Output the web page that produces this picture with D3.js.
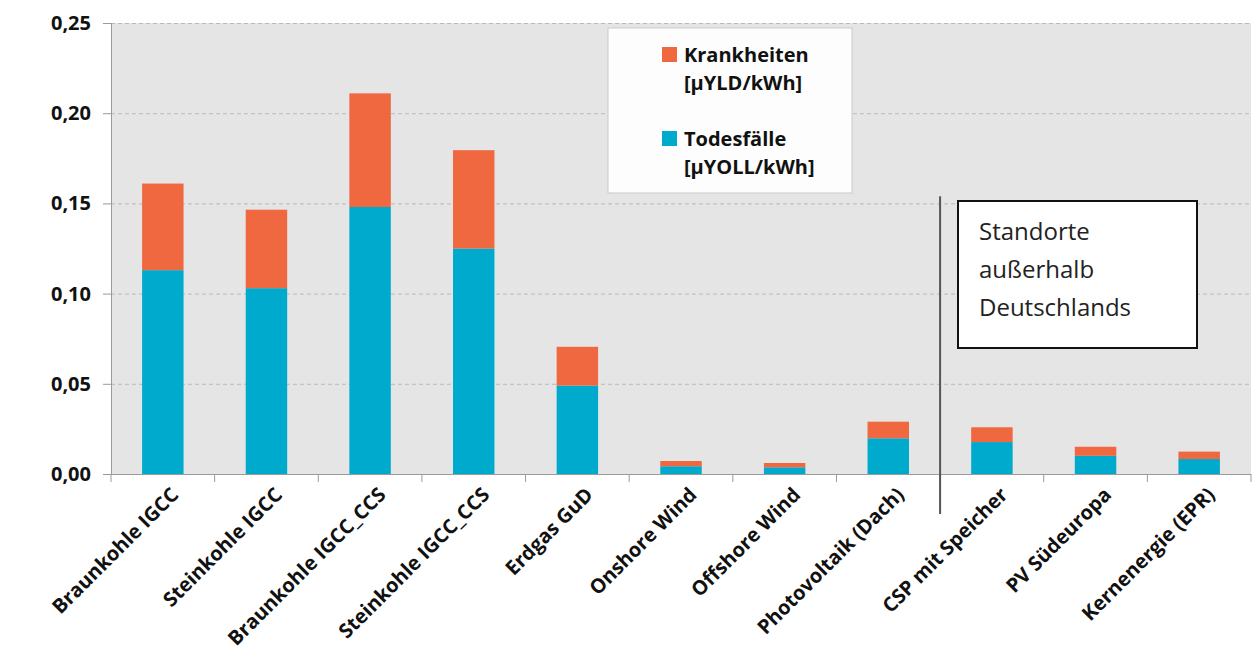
<!DOCTYPE html>
<html>
<head>
<meta charset="utf-8">
<script src="https://cdn.jsdelivr.net/npm/d3@7"></script>
<style>
  html, body { margin: 0; padding: 0; background: #ffffff; }
  svg { display: block; }
</style>
</head>
<body>
<svg id="chart" width="1254" height="668"></svg>
<script>
// Gesundheitsschäden je kWh, nach Kraftwerkstyp
const categories = [
  "Braunkohle IGCC", "Steinkohle IGCC", "Braunkohle IGCC_CCS", "Steinkohle IGCC_CCS",
  "Erdgas GuD", "Onshore Wind", "Offshore Wind", "Photovoltaik (Dach)",
  "CSP mit Speicher", "PV Südeuropa", "Kernenergie (EPR)"
];
// Todesfälle [µYOLL/kWh]
const todesfaelle = [0.113, 0.103, 0.148, 0.125, 0.049, 0.0043, 0.0037, 0.0198, 0.0177, 0.0101, 0.0083];
// Krankheiten [µYLD/kWh]
const krankheiten = [0.048, 0.0435, 0.063, 0.0545, 0.0215, 0.0029, 0.0024, 0.0092, 0.0082, 0.0050, 0.0041];
const yTicks = [0, 0.05, 0.10, 0.15, 0.20, 0.25];
const yTickLabels = ["0,00", "0,05", "0,10", "0,15", "0,20", "0,25"];
const seriesKeys = ["todesfaelle", "krankheiten"];
const legendLines = [
  ["Krankheiten", "[µYLD/kWh]"],
  ["Todesfälle", "[µYOLL/kWh]"]
];
const boxLines = ["Standorte", "außerhalb", "Deutschlands"];
// Erste Kategorie mit Standort außerhalb Deutschlands
const abroadFrom = "CSP mit Speicher";

const colors = { todesfaelle: "#00aacd", krankheiten: "#ef683f" };
const font = "'Open Sans', 'Noto Sans', sans-serif";

const svg = d3.select("#chart");
const m = { left: 111, top: 23, right: 3, bottom: 194 };
const W = 1254, H = 668;
const pw = W - m.left - m.right, ph = H - m.top - m.bottom;

const rows = categories.map((c, i) => ({ cat: c, todesfaelle: todesfaelle[i], krankheiten: krankheiten[i] }));
const stacked = d3.stack().keys(seriesKeys)(rows);

const x = d3.scaleBand().domain(categories).range([0, pw]).paddingInner(0.6).paddingOuter(0.3);
const y = d3.scaleLinear().domain([0, 0.25]).range([ph, 0]);

const g = svg.append("g").attr("transform", `translate(${m.left},${m.top})`);

// Plotfläche
g.append("rect").attr("width", pw).attr("height", ph).attr("fill", "#e5e5e5");

// Gitterlinien
g.append("g").selectAll("line").data(yTicks.filter(t => t > 0)).join("line")
  .attr("x1", 0).attr("x2", pw)
  .attr("y1", d => y(d) + 0.5).attr("y2", d => y(d) + 0.5)
  .attr("stroke", "#b9b9b9").attr("stroke-width", 1).attr("stroke-dasharray", "4,3");

// Balken
g.append("g").selectAll("g").data(stacked).join("g")
  .attr("fill", d => colors[d.key])
  .selectAll("rect").data(d => d).join("rect")
  .attr("x", d => x(d.data.cat))
  .attr("width", x.bandwidth())
  .attr("y", d => y(d[1]))
  .attr("height", d => y(d[0]) - y(d[1]));

// y-Achse
const yAxis = g.append("g").call(
  d3.axisLeft(y).tickValues(yTicks).tickFormat((d, i) => yTickLabels[i]).tickSize(8).tickPadding(12)
);
yAxis.select(".domain").attr("stroke", "#9a9a9a");
yAxis.selectAll(".tick line").attr("stroke", "#9a9a9a");
yAxis.selectAll("text").attr("font-family", font).attr("font-weight", "bold")
  .attr("font-size", 20).attr("fill", "#111");

// x-Achse mit Teilstrichen an den Kategoriegrenzen
const xa = g.append("g").attr("transform", `translate(0,${ph})`);
xa.append("line").attr("x1", 0).attr("x2", pw).attr("y1", 0.5).attr("y2", 0.5).attr("stroke", "#9a9a9a");
const step = x.step();
const edge0 = x(categories[0]) - (step - x.bandwidth()) / 2;
xa.selectAll("line.tk").data(d3.range(categories.length + 1)).join("line")
  .attr("class", "tk")
  .attr("x1", i => edge0 + i * step).attr("x2", i => edge0 + i * step)
  .attr("y1", 0).attr("y2", 8).attr("stroke", "#9a9a9a");

xa.selectAll("text").data(categories).join("text")
  .attr("transform", d => `translate(${x(d) + x.bandwidth() / 2 + 12},${17}) rotate(-45)`)
  .attr("text-anchor", "end")
  .attr("dy", "0.35em")
  .attr("font-family", font).attr("font-weight", "bold").attr("font-size", 20).attr("fill", "#111")
  .text(d => d);

// Trennlinie Deutschland / Ausland
const sepX = x(abroadFrom) - (step - x.bandwidth()) / 2;
g.append("line")
  .attr("x1", sepX).attr("x2", sepX)
  .attr("y1", y(0.154)).attr("y2", ph + 40)
  .attr("stroke", "#555").attr("stroke-width", 2);

// Legende
const lg = svg.append("g").attr("transform", "translate(608,28)");
lg.append("rect").attr("width", 244).attr("height", 165).attr("fill", "#fdfdfd").attr("stroke", "#c9c9c9");
const legendKeys = ["krankheiten", "todesfaelle"];
legendLines.forEach((lines, i) => {
  const oy = 19 + i * 84;
  lg.append("rect").attr("x", 54).attr("y", oy).attr("width", 15).attr("height", 15).attr("fill", colors[legendKeys[i]]);
  lines.forEach((t, j) => {
    lg.append("text").attr("x", 76).attr("y", oy + 15 + j * 28)
      .attr("font-family", font).attr("font-weight", "bold").attr("font-size", 20).attr("fill", "#111")
      .text(t);
  });
});

// Hinweisbox
const bx = svg.append("g").attr("transform", "translate(958,201)");
bx.append("rect").attr("width", 239).attr("height", 147).attr("fill", "#ffffff").attr("stroke", "#111").attr("stroke-width", 2);
boxLines.forEach((t, i) => {
  bx.append("text").attr("x", 21).attr("y", 39 + i * 38)
    .attr("font-family", font).attr("font-size", 24).attr("fill", "#222")
    .text(t);
});
</script>
</body>
</html>
